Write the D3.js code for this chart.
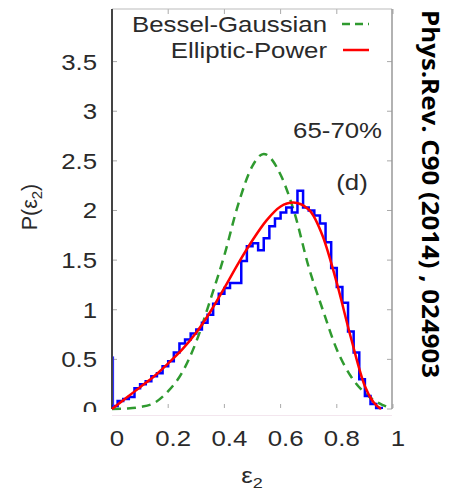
<!DOCTYPE html>
<html>
<head>
<meta charset="utf-8">
<script src="https://cdn.jsdelivr.net/npm/d3@7"></script>
<style>
  body { margin: 0; background: #fff; }
  svg { display: block; }
</style>
</head>
<body>
<svg id="chart" width="450" height="491"></svg>
<script>
// ---- data ----
const xTicks = [0, 0.2, 0.4, 0.6, 0.8, 1];
const xTickLabels = ["0", "0.2", "0.4", "0.6", "0.8", "1"];
const yTicks = [0, 0.5, 1, 1.5, 2, 2.5, 3, 3.5];
const yTickLabels = ["0", "0.5", "1", "1.5", "2", "2.5", "3", "3.5"];

// histogram (blue), bins of width 0.02 starting at 0
const histBinWidth = 0.02;
const histValues = [
  0.03, 0.08, 0.10, 0.12, 0.21, 0.25, 0.28, 0.33, 0.36, 0.43,
  0.48, 0.57, 0.66, 0.70, 0.76, 0.80, 0.87, 0.95, 1.06, 1.16,
  1.22, 1.27, 1.27, 1.49, 1.64, 1.67, 1.60, 1.72, 1.84, 1.92,
  1.98, 2.03, 1.98, 2.20, 2.03, 2.00, 1.95, 1.87, 1.68, 1.42,
  1.23, 1.07, 0.78, 0.57, 0.30, 0.13, 0.05, 0.01
];
const histEdgeHeight = 0.53; // thin vertical blue stroke at eps=0

// Bessel-Gaussian (green dashed)
const bgX = [0, 0.05, 0.1, 0.15, 0.2, 0.25, 0.3, 0.35, 0.4, 0.45, 0.5, 0.54, 0.6, 0.65, 0.7, 0.75, 0.8, 0.85, 0.9, 0.95, 0.99];
const bgY = [0, 0.005, 0.02, 0.06, 0.18, 0.37, 0.68, 1.10, 1.55, 2.07, 2.45, 2.57, 2.36, 1.97, 1.43, 1.00, 0.60, 0.33, 0.16, 0.06, 0.01];

// Elliptic-Power (red)
const epX = [0, 0.05, 0.1, 0.15, 0.2, 0.25, 0.3, 0.35, 0.4, 0.45, 0.5, 0.55, 0.6, 0.645, 0.7, 0.75, 0.8, 0.85, 0.9, 0.93, 0.957];
const epY = [0, 0.11, 0.22, 0.33, 0.46, 0.60, 0.77, 0.98, 1.22, 1.47, 1.70, 1.90, 2.04, 2.08, 2.01, 1.74, 1.27, 0.72, 0.23, 0.07, 0.0];

const legendLabels = ["Bessel-Gaussian", "Elliptic-Power"];
const centralityLabel = "65-70%";
const panelLabel = "(d)";
const sideNote = "Phys.Rev. C90 (2014) , 024903";

// ---- layout ----
const svg = d3.select("#chart");
const plotLeft = 112, plotRight = 392, plotTop = 9, plotBottom = 409;
const x = d3.scaleLinear().domain([0, 1]).range([plotLeft, plotRight + 1]);
const y = d3.scaleLinear().domain([0, 4.03]).range([plotBottom, plotTop]);

const font = "'Liberation Sans', Arial, Helvetica, sans-serif";
const stretch = 1.2;
const textColor = "#2a2a2a";

// helper: horizontally stretched text (the original is widened)
function label(g, txt, px, py, size, anchor) {
  return g.append("text")
    .attr("transform", "translate(" + px + "," + py + ") scale(" + stretch + ",1)")
    .attr("text-anchor", anchor || "start")
    .attr("font-family", font)
    .attr("font-size", size)
    .attr("fill", textColor)
    .text(txt);
}

// ticks
const tickG = svg.append("g").attr("stroke", "#aaa").attr("stroke-width", 1);
yTicks.forEach(function(v) {
  tickG.append("line").attr("x1", plotLeft).attr("x2", plotLeft + 5).attr("y1", y(v)).attr("y2", y(v));
  tickG.append("line").attr("x1", plotRight - 5).attr("x2", plotRight).attr("y1", y(v)).attr("y2", y(v));
});
xTicks.forEach(function(v) {
  tickG.append("line").attr("x1", x(v)).attr("x2", x(v)).attr("y1", plotTop).attr("y2", plotTop + 5);
  tickG.append("line").attr("x1", x(v)).attr("x2", x(v)).attr("y1", plotBottom - 5).attr("y2", plotBottom - 1);
});

// frame
svg.append("line").attr("x1", plotLeft).attr("x2", plotRight).attr("y1", plotTop).attr("y2", plotTop)
  .attr("stroke", "#bbb").attr("stroke-width", 1);
svg.append("line").attr("x1", plotRight).attr("x2", plotRight).attr("y1", plotTop).attr("y2", plotBottom)
  .attr("stroke", "#999").attr("stroke-width", 1.5);
svg.append("line").attr("x1", plotLeft).attr("x2", plotRight).attr("y1", 415.5).attr("y2", 415.5)
  .attr("stroke", "#f3e6ee").attr("stroke-width", 1);

// y tick labels (the "0" is cut off at the bottom in the original)
svg.append("clipPath").attr("id", "yclip")
  .append("rect").attr("x", 0).attr("y", 0).attr("width", 112).attr("height", 412);
const yLab = svg.append("g").attr("clip-path", "url(#yclip)");
yTicks.forEach(function(v, i) {
  label(yLab, yTickLabels[i], 97, y(v) + 8, 21.5, "end");
});

// x tick labels
xTicks.forEach(function(v, i) {
  label(svg, xTickLabels[i], x(v) + 5, 446, 21.5, "middle");
});

// axis titles
const xt = label(svg, "", 252, 483, 21.5, "middle");
xt.append("tspan").text("ε");
xt.append("tspan").attr("font-size", 15).attr("dy", 5).text("2");

const yt = svg.append("text")
  .attr("transform", "translate(37,207) rotate(-90)")
  .attr("text-anchor", "middle")
  .attr("font-family", font)
  .attr("font-size", 21.5)
  .attr("fill", textColor);
yt.append("tspan").text("P(ε");
yt.append("tspan").attr("font-size", 15).attr("dy", 5).text("2");
yt.append("tspan").attr("dy", -5).text(")");

// ---- curves ----
const plot = svg.append("g");
const smooth = d3.line().x(d => x(d[0])).y(d => y(d[1])).curve(d3.curveMonotoneX);

const bgPts = bgX.map(function(v, i) { return [v, bgY[i]]; });
plot.append("path")
  .datum(bgPts)
  .attr("fill", "none")
  .attr("stroke", "#2f9a2f")
  .attr("stroke-width", 2.5)
  .attr("stroke-dasharray", "9,6")
  .attr("d", smooth);

// left frame
svg.append("line").attr("x1", plotLeft).attr("x2", plotLeft).attr("y1", plotTop).attr("y2", plotBottom)
  .attr("stroke", "#444").attr("stroke-width", 2);

// histogram as steps
const histPts = histValues.map(function(v, i) { return [i * histBinWidth, v]; });
histPts.push([histValues.length * histBinWidth, 0]);
plot.raise();
const hist = svg.append("g");
hist.append("path")
  .datum(histPts)
  .attr("fill", "none")
  .attr("stroke", "#0000ff")
  .attr("stroke-width", 2.5)
  .attr("d", d3.line().x(d => x(d[0])).y(d => y(d[1])).curve(d3.curveStepAfter));
hist.append("line")
  .attr("x1", x(0) + 1.5).attr("x2", x(0) + 1.5).attr("y1", y(0)).attr("y2", y(histEdgeHeight))
  .attr("stroke", "#3030ff").attr("stroke-width", 1.2);

const epPts = epX.map(function(v, i) { return [v, epY[i]]; });
hist.append("path")
  .datum(epPts)
  .attr("fill", "none")
  .attr("stroke", "#ff0000")
  .attr("stroke-width", 2.5)
  .attr("d", smooth);

// ---- legend ----
label(svg, legendLabels[0], 327, 32, 21.5, "end");
label(svg, legendLabels[1], 327, 58, 21.5, "end");
svg.append("line").attr("x1", 342).attr("x2", 369).attr("y1", 24).attr("y2", 24)
  .attr("stroke", "#2f9a2f").attr("stroke-width", 2.5).attr("stroke-dasharray", "8,5");
svg.append("line").attr("x1", 343).attr("x2", 369).attr("y1", 50).attr("y2", 50)
  .attr("stroke", "#ff0000").attr("stroke-width", 2.5);

// annotations
label(svg, centralityLabel, 382, 138, 21.5, "end");
label(svg, panelLabel, 352, 190, 21.5, "middle");

svg.append("text")
  .attr("transform", "translate(422,10) rotate(90)")
  .attr("font-family", "'Open Sans', sans-serif")
  .attr("font-weight", 700)
  .attr("font-size", 23)
  .attr("textLength", 368)
  .attr("lengthAdjust", "spacingAndGlyphs")
  .attr("fill", "#000")
  .text(sideNote);
</script>
</body>
</html>
